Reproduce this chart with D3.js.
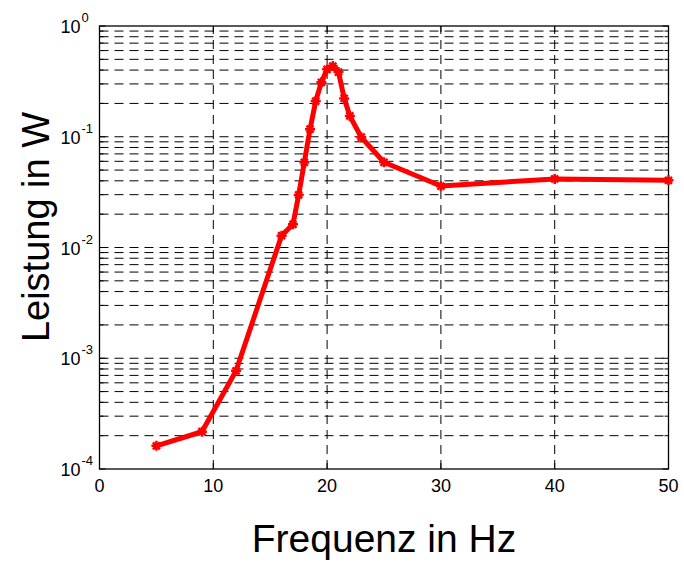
<!DOCTYPE html>
<html>
<head>
<meta charset="utf-8">
<script src="https://cdn.jsdelivr.net/npm/d3@7"></script>
<style>
  body { margin: 0; background: #fff; }
  svg text { font-family: "Liberation Sans", Arial, sans-serif; fill: #000; }
</style>
</head>
<body>
<div id="chart"></div>
<script>
// data
const freq = [5, 9, 12, 16, 17, 17.5, 18, 18.5, 19, 19.5, 20, 20.5, 21, 21.5, 22, 23, 25, 30, 40, 50];
const power = [1.62e-4, 2.17e-4, 7.7e-4, 0.0128, 0.0162, 0.0298, 0.0588, 0.117, 0.21, 0.31, 0.406, 0.435,
               0.384, 0.222, 0.154, 0.099, 0.0588, 0.0359, 0.0416, 0.0404];
const xTicks = [0, 10, 20, 30, 40, 50];
const yDecades = [-4, -3, -2, -1, 0];

const width = 684, height = 563;
const margin = { left: 99.5, right: 684 - 668.5, top: 26, bottom: 563 - 469 };

const svg = d3.select('#chart').append('svg')
    .attr('width', width)
    .attr('height', height);

const x = d3.scaleLinear().domain([0, 50]).range([margin.left, width - margin.right]);
const y = d3.scaleLog().domain([1e-4, 1]).range([height - margin.bottom, margin.top]);

const x0 = x.range()[0], x1 = x.range()[1];
const y0 = y.range()[0], y1 = y.range()[1];

// minor + major log grid values
const yGrid = [];
yDecades.slice(0, -1).forEach(d => {
    for (let m = 1; m <= 9; m++) yGrid.push(m * Math.pow(10, d));
});
yGrid.push(1);

const grid = svg.append('g')
    .attr('stroke', '#000')
    .attr('stroke-width', 1)
    .attr('stroke-dasharray', '9,6');

grid.selectAll('line.hg')
    .data(yGrid.filter(v => v > 1e-4 && v < 1))
    .enter().append('line')
    .attr('class', 'hg')
    .attr('x1', x0).attr('x2', x1)
    .attr('y1', d => y(d)).attr('y2', d => y(d));

grid.selectAll('line.vg')
    .data(xTicks.filter(v => v > 0 && v < 50))
    .enter().append('line')
    .attr('class', 'vg')
    .attr('x1', d => x(d)).attr('x2', d => x(d))
    .attr('y1', y0).attr('y2', y1);

// tick marks inside the box (all four sides)
const ticks = svg.append('g').attr('stroke', '#000').attr('stroke-width', 1);
yGrid.forEach(v => {
    const major = yDecades.some(d => Math.abs(Math.log10(v) - d) < 1e-9);
    const len = major ? 6 : 4;
    ticks.append('line').attr('x1', x0).attr('x2', x0 + len).attr('y1', y(v)).attr('y2', y(v));
    ticks.append('line').attr('x1', x1).attr('x2', x1 - len).attr('y1', y(v)).attr('y2', y(v));
});
xTicks.forEach(v => {
    ticks.append('line').attr('x1', x(v)).attr('x2', x(v)).attr('y1', y0).attr('y2', y0 - 6);
    ticks.append('line').attr('x1', x(v)).attr('x2', x(v)).attr('y1', y1).attr('y2', y1 + 6);
});

// axes box
svg.append('rect')
    .attr('x', x0).attr('y', y1)
    .attr('width', x1 - x0).attr('height', y0 - y1)
    .attr('fill', 'none')
    .attr('stroke', '#000')
    .attr('stroke-width', 1.3);

// x tick labels
svg.selectAll('text.xt')
    .data(xTicks)
    .enter().append('text')
    .attr('class', 'xt')
    .attr('x', d => x(d))
    .attr('y', y0 + 23)
    .attr('text-anchor', 'middle')
    .style('font-size', '18px')
    .text(d => d);

// y tick labels 10^n
const yl = svg.selectAll('text.yt')
    .data(yDecades)
    .enter().append('text')
    .attr('class', 'yt')
    .attr('x', x0 - 39)
    .attr('y', d => y(Math.pow(10, d)) + 7)
    .attr('text-anchor', 'start')
    .style('font-size', '18px');
yl.append('tspan').text('10');
yl.append('tspan')
    .attr('dx', 1)
    .attr('dy', -11)
    .style('font-size', '13px')
    .text(d => d);

// axis labels
svg.append('text')
    .attr('x', (x0 + x1) / 2)
    .attr('y', 552)
    .attr('text-anchor', 'middle')
    .style('font-size', '39px')
    .text('Frequenz in Hz');

svg.append('text')
    .attr('transform', 'translate(49,227) rotate(-90)')
    .attr('text-anchor', 'middle')
    .style('font-size', '38px')
    .text('Leistung in W');

// data line
const pts = freq.map((f, i) => ({ f: f, p: power[i] }));

svg.append('path')
    .datum(pts)
    .attr('fill', 'none')
    .attr('stroke', '#ff0000')
    .attr('stroke-width', 5)
    .attr('stroke-linejoin', 'round')
    .attr('d', d3.line().x(d => x(d.f)).y(d => y(d.p)));

// asterisk markers
const star = 'M-5,0L5,0M0,-5L0,5M-3.5,-3.5L3.5,3.5M-3.5,3.5L3.5,-3.5';
svg.selectAll('path.mk')
    .data(pts)
    .enter().append('path')
    .attr('class', 'mk')
    .attr('transform', d => `translate(${x(d.f)},${y(d.p)})`)
    .attr('d', star)
    .attr('fill', 'none')
    .attr('stroke', '#ff0000')
    .attr('stroke-width', 2.5);
</script>
</body>
</html>
